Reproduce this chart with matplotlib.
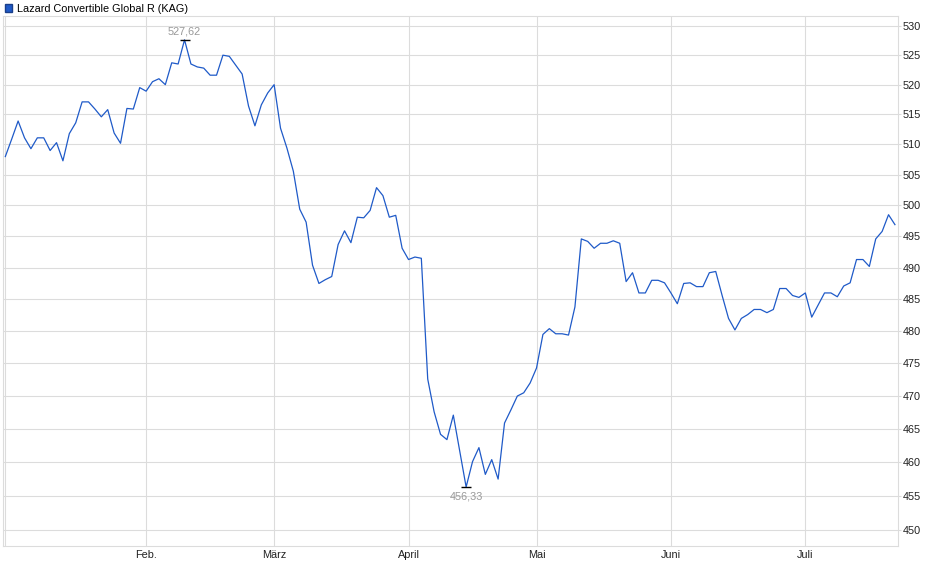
import matplotlib.pyplot as plt
import numpy as np
import pandas as pd
from matplotlib.patches import Patch
from matplotlib.ticker import NullLocator

plt.rcParams['font.family'] = ['Liberation Sans', 'DejaVu Sans']

# Handelstage 2025 (ohne Karfreitag, Ostermontag, 1. Mai)
holidays = ['2025-04-18', '2025-04-21', '2025-05-01']
dates = pd.bdate_range('2025-01-02', '2025-07-21', freq='C', holidays=holidays)

# Kurse
prices = [
    508.0, 510.9, 513.9, 511.1, 509.3, 511.1, 511.1, 509.0, 510.3, 507.3,
    511.8, 513.6, 517.1, 517.1, 515.9, 514.6, 515.8, 511.9, 510.2, 516.0,
    515.9, 519.5, 518.9, 520.5, 521.0, 520.0, 523.7, 523.5, 527.62, 523.5,
    523.0, 522.8, 521.6, 521.6, 525.0, 524.8, 523.3, 521.8, 516.4, 513.1,
    516.6, 518.6, 520.0, 512.7, 509.4, 505.6, 499.4, 497.3, 490.4, 487.5,
    488.1, 488.6, 493.7, 495.9, 494.0, 498.1, 498.0, 499.2, 502.9, 501.6,
    498.1, 498.4, 493.1, 491.3, 491.7, 491.5, 472.6, 467.6, 464.2, 463.4,
    467.1, 461.7, 456.33, 460.1, 462.2, 458.2, 460.4, 457.5, 465.9, 467.9,
    470.0, 470.5, 472.0, 474.3, 479.5, 480.4, 479.6, 479.6, 479.4, 483.8,
    494.6, 494.2, 493.1, 493.9, 493.9, 494.3, 493.9, 487.8, 489.2, 486.0,
    486.0, 488.0, 488.0, 487.6, 486.0, 484.3, 487.5, 487.6, 487.0, 487.0,
    489.2, 489.4, 485.6, 482.0, 480.2, 482.0, 482.6, 483.4, 483.4, 482.9,
    483.4, 486.7, 486.7, 485.6, 485.3, 486.0, 482.2, 484.1, 486.0, 486.0,
    485.4, 487.1, 487.6, 491.3, 491.3, 490.2, 494.6, 495.8, 498.5, 496.9,
]
month_labels = ['', 'Feb.', 'März', 'April', 'Mai', 'Juni', 'Juli']
y_ticks = list(range(450, 531, 5))
series_name = 'Lazard Convertible Global R (KAG)'

print(len(dates), len(prices))

x = np.arange(len(prices))
months = np.asarray(dates.month)
month_starts = np.flatnonzero(np.r_[True, months[1:] != months[:-1]])

line_color = '#1f5ac8'
grid_color = '#dcdcdc'
fs = 7.8

fig = plt.figure(figsize=(9.4, 5.79), dpi=100)
ax = fig.add_axes([2.7 / 940, 33 / 579, 895.3 / 940, 530 / 579])

ax.plot(x, prices, color=line_color, lw=0.9, zorder=3)

ax.set_yscale('log')
ax.set_ylim(447.67, 531.72)
ax.set_xlim(-0.41, 139.48)

ax.yaxis.tick_right()
ax.set_yticks(y_ticks)
ax.set_yticklabels([str(v) for v in y_ticks])
ax.yaxis.set_minor_locator(NullLocator())
ax.tick_params(axis='y', length=2, color=grid_color, labelsize=fs, pad=1.5, labelcolor='#222222')

ax.set_xticks(month_starts)
ax.set_xticklabels(month_labels[:len(month_starts)])
ax.tick_params(axis='x', length=0, labelsize=fs, pad=3, labelcolor='#222222')

ax.grid(True, color=grid_color, lw=0.8)
ax.set_axisbelow(True)
for sp in ax.spines.values():
    sp.set_color(grid_color)
    sp.set_linewidth(0.8)

# Hoch / Tief markieren
i_max = int(np.argmax(prices))
i_min = int(np.argmin(prices))
for i, off, va in [(i_max, 2.5, 'bottom'), (i_min, -3.5, 'top')]:
    ax.plot(x[i], prices[i], marker='_', ms=7, mew=1, color='black', zorder=4)
    ax.annotate(f'{prices[i]:.2f}'.replace('.', ','), (x[i], prices[i]),
                xytext=(0, off), textcoords='offset points', ha='center', va=va,
                fontsize=fs, color='#999999')

ax.legend(handles=[Patch(facecolor=line_color, edgecolor='#1a3f8a', label=series_name)],
          loc='lower left', bbox_to_anchor=(0, 1.0), frameon=False, fontsize=fs,
          handlelength=0.7, handleheight=0.7, handletextpad=0.4,
          borderpad=0.1, borderaxespad=0.1)

fig.savefig('out.png', dpi=100)
